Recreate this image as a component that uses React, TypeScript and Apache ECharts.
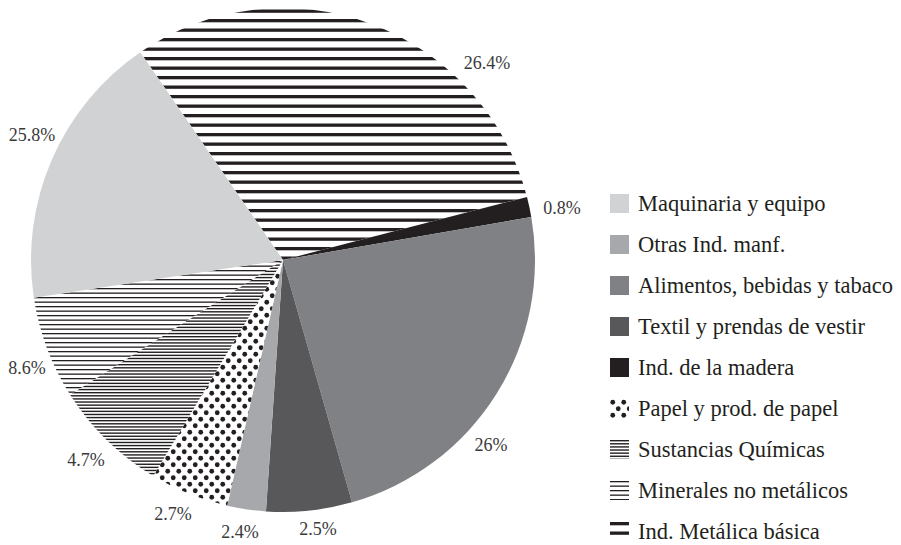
import React, { useEffect, useRef } from "react";
import * as echarts from "echarts";

// Slices in clockwise drawing order, starting from the upper-left edge of the striped slice
const categories = [
  "Ind. Metálica básica",
  "Ind. de la madera",
  "Alimentos, bebidas y tabaco",
  "Textil y prendas de vestir",
  "Otras Ind. manf.",
  "Papel y prod. de papel",
  "Sustancias Químicas",
  "Minerales no metálicos",
  "Maquinaria y equipo",
];
// share of the circle each slice covers in the drawing (%)
const sliceShare = [30.56, 1.29, 23.32, 5.49, 2.48, 5.05, 7.41, 6.59, 17.81];
// percentages printed next to the slices
const printedLabels = ["26.4%", "0.8%", "26%", "2.5%", "2.4%", "2.7%", "4.7%", "8.6%", "25.8%"];
// legend order as shown
const legendOrder = [
  "Maquinaria y equipo",
  "Otras Ind. manf.",
  "Alimentos, bebidas y tabaco",
  "Textil y prendas de vestir",
  "Ind. de la madera",
  "Papel y prod. de papel",
  "Sustancias Químicas",
  "Minerales no metálicos",
  "Ind. Metálica básica",
];

// layout: label centres (px)
const LABEL_POS: [number, number][] = [
  [487, 63],
  [562, 208],
  [491, 445],
  [318, 529],
  [240, 532],
  [173, 514],
  [86, 460],
  [27, 368],
  [32, 135],
];

const INK = "#231f20";
const FONT = "Liberation Serif";

function stripeCanvas(h: number, n: number, thick: number) {
  const c = document.createElement("canvas");
  c.width = 8;
  c.height = h;
  const ctx = c.getContext("2d")!;
  ctx.fillStyle = "#ffffff";
  ctx.fillRect(0, 0, 8, h);
  ctx.fillStyle = INK;
  const p = h / n;
  for (let i = 0; i < n; i++) ctx.fillRect(0, i * p, 8, thick);
  return c;
}

function dotCanvas() {
  const c = document.createElement("canvas");
  c.width = 11;
  c.height = 13;
  const ctx = c.getContext("2d")!;
  ctx.fillStyle = "#ffffff";
  ctx.fillRect(0, 0, 11, 13);
  ctx.fillStyle = INK;
  ctx.beginPath();
  ctx.arc(2.75, 3.25, 2.4, 0, Math.PI * 2);
  ctx.fill();
  ctx.beginPath();
  ctx.arc(8.25, 9.75, 2.4, 0, Math.PI * 2);
  ctx.fill();
  return c;
}

export default function App() {
  const ref = useRef<HTMLDivElement>(null);
  useEffect(() => {
    if (!ref.current) return;
    const chart = echarts.init(ref.current, null, { renderer: "svg" });
    const fills: any[] = [
      { image: stripeCanvas(19, 2, 3.3), repeat: "repeat" },
      INK,
      "#808184",
      "#58585a",
      "#a7a8ab",
      { image: dotCanvas(), repeat: "repeat" },
      { image: stripeCanvas(28, 9, 1.4), repeat: "repeat" },
      { image: stripeCanvas(9, 2, 1.3), repeat: "repeat" },
      "#d1d2d4",
    ];
    const data = categories.map((name, i) => ({
      name,
      value: sliceShare[i],
      itemStyle: { color: fills[i] },
    }));
    const legendText = {
      fontFamily: FONT,
      fontSize: 22.5,
      lineHeight: 23,
      color: INK,
      padding: [0, 0, 0, 4],
    };
    chart.setOption({
      animation: false,
      textStyle: { fontFamily: FONT },
      legend: {
        orient: "vertical",
        left: 610,
        top: 192,
        height: 353,
        padding: 0,
        itemWidth: 19,
        itemHeight: 19,
        itemGap: 18,
        icon: "rect",
        selectedMode: false,
        data: legendOrder.map((name) => ({ name, textStyle: legendText })),
        textStyle: legendText,
      },
      series: [
        {
          type: "pie",
          center: [283, 260],
          radius: 252,
          startAngle: 124.5,
          clockwise: true,
          avoidLabelOverlap: false,
          itemStyle: { borderWidth: 0 },
          label: {
            show: true,
            formatter: (p: any) => printedLabels[p.dataIndex],
            fontFamily: FONT,
            fontSize: 18,
            color: "#3a3a3b",
          },
          labelLine: { show: false },
          labelLayout: (p: any) => ({
            x: LABEL_POS[p.dataIndex][0],
            y: LABEL_POS[p.dataIndex][1],
            align: "center",
            verticalAlign: "middle",
          }),
          emphasis: { disabled: true },
          data,
        },
      ],
    });
    return () => chart.dispose();
  }, []);
  return (
    <div
      ref={ref}
      style={{ position: "fixed", left: 0, top: 0, width: 901, height: 545, background: "#ffffff" }}
    />
  );
}
